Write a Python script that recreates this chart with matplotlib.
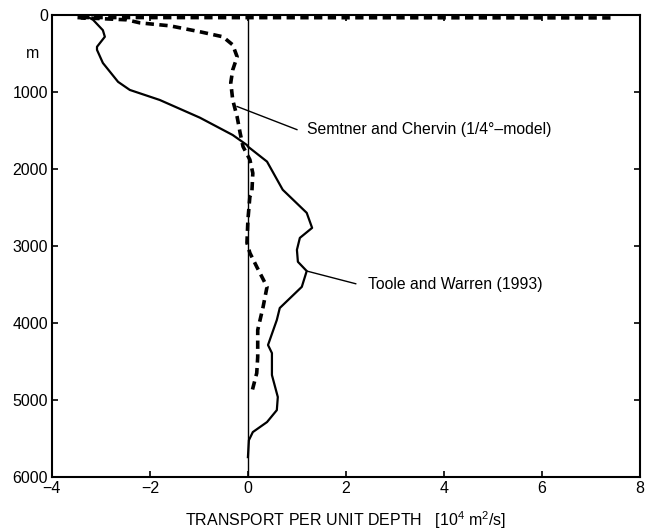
from matplotlib import pyplot as plt
import numpy as np

plt.rcParams["font.family"] = ["Liberation Sans", "DejaVu Sans"]
plt.rcParams["mathtext.fontset"] = "custom"
plt.rcParams["mathtext.rm"] = "Liberation Sans"

# Toole and Warren (1993), solid
tw_x = [-3.27, -3.16, -2.96, -2.92, -3.08, -3.08, -2.96, -2.65, -2.41, -1.80, -0.98,
        -0.31, -0.02, 0.0, 0.39, 0.71, 1.20, 1.31, 1.06, 1.00, 1.02, 1.20, 1.10,
        0.65, 0.59, 0.41, 0.49, 0.49, 0.61, 0.59, 0.39, 0.10, 0.02, 0.0]
tw_y = [26, 65, 200, 285, 415, 455, 625, 870, 975, 1105, 1335,
        1560, 1690, 1710, 1905, 2270, 2570, 2765, 2895, 3050, 3205, 3325, 3530,
        3805, 3960, 4285, 4390, 4675, 4960, 5130, 5285, 5415, 5520, 5740]

# Semtner and Chervin (1/4 deg model), dashed
sc_x = [7.4, -3.5, -2.47, -2.2, -1.59, -0.98, -0.51, -0.31, -0.22, -0.31, -0.35,
        -0.31, -0.22, -0.16, -0.10, 0.04, 0.10, 0.08, 0.04, 0.0, -0.02, 0.04,
        0.18, 0.39, 0.31, 0.20, 0.20, 0.18, 0.08]
sc_y = [40, 35, 65, 105, 143, 220, 285, 390, 545, 715, 880,
        1105, 1325, 1530, 1710, 1880, 2055, 2310, 2360, 2660, 2960, 3090,
        3270, 3530, 3790, 4090, 4440, 4650, 4895]

fig = plt.figure(figsize=(6.49, 5.29), dpi=100)
ax = fig.add_axes([0.080, 0.098, 0.906, 0.874])

ax.plot([0, 0], [0, 6000], color="black", lw=1.0)
ax.plot(tw_x, tw_y, color="black", lw=1.6)
ax.plot(sc_x, sc_y, color="black", lw=2.6, dashes=(2.3, 1.5))

ax.set_xlim(-4, 8)
ax.set_ylim(6000, 0)
ax.set_xticks([-4, -2, 0, 2, 4, 6, 8])
ax.set_yticks([0, 1000, 2000, 3000, 4000, 5000, 6000])
ax.tick_params(direction="in", length=4, width=1.2, labelsize=11.5,
               top=True, right=True, pad=3)
for s in ax.spines.values():
    s.set_linewidth(1.5)

ax.text(-4.25, 500, "m", fontsize=11.5, ha="right", va="center")

ax.plot([-0.22, 1.0], [1190, 1490], color="black", lw=1.0)
ax.text(1.2, 1494, "Semtner and Chervin (1/4\u00b0\u2013model)", fontsize=11.3,
        va="center", ha="left")
ax.plot([1.2, 2.2], [3325, 3490], color="black", lw=1.0)
ax.text(2.45, 3506, "Toole and Warren (1993)", fontsize=11.3,
        va="center", ha="left")

ax.set_xlabel("TRANSPORT PER UNIT DEPTH   [10$^{4}$ m$^{2}$/s]", fontsize=11.5,
              labelpad=9)

fig.savefig("out.png", dpi=100)
